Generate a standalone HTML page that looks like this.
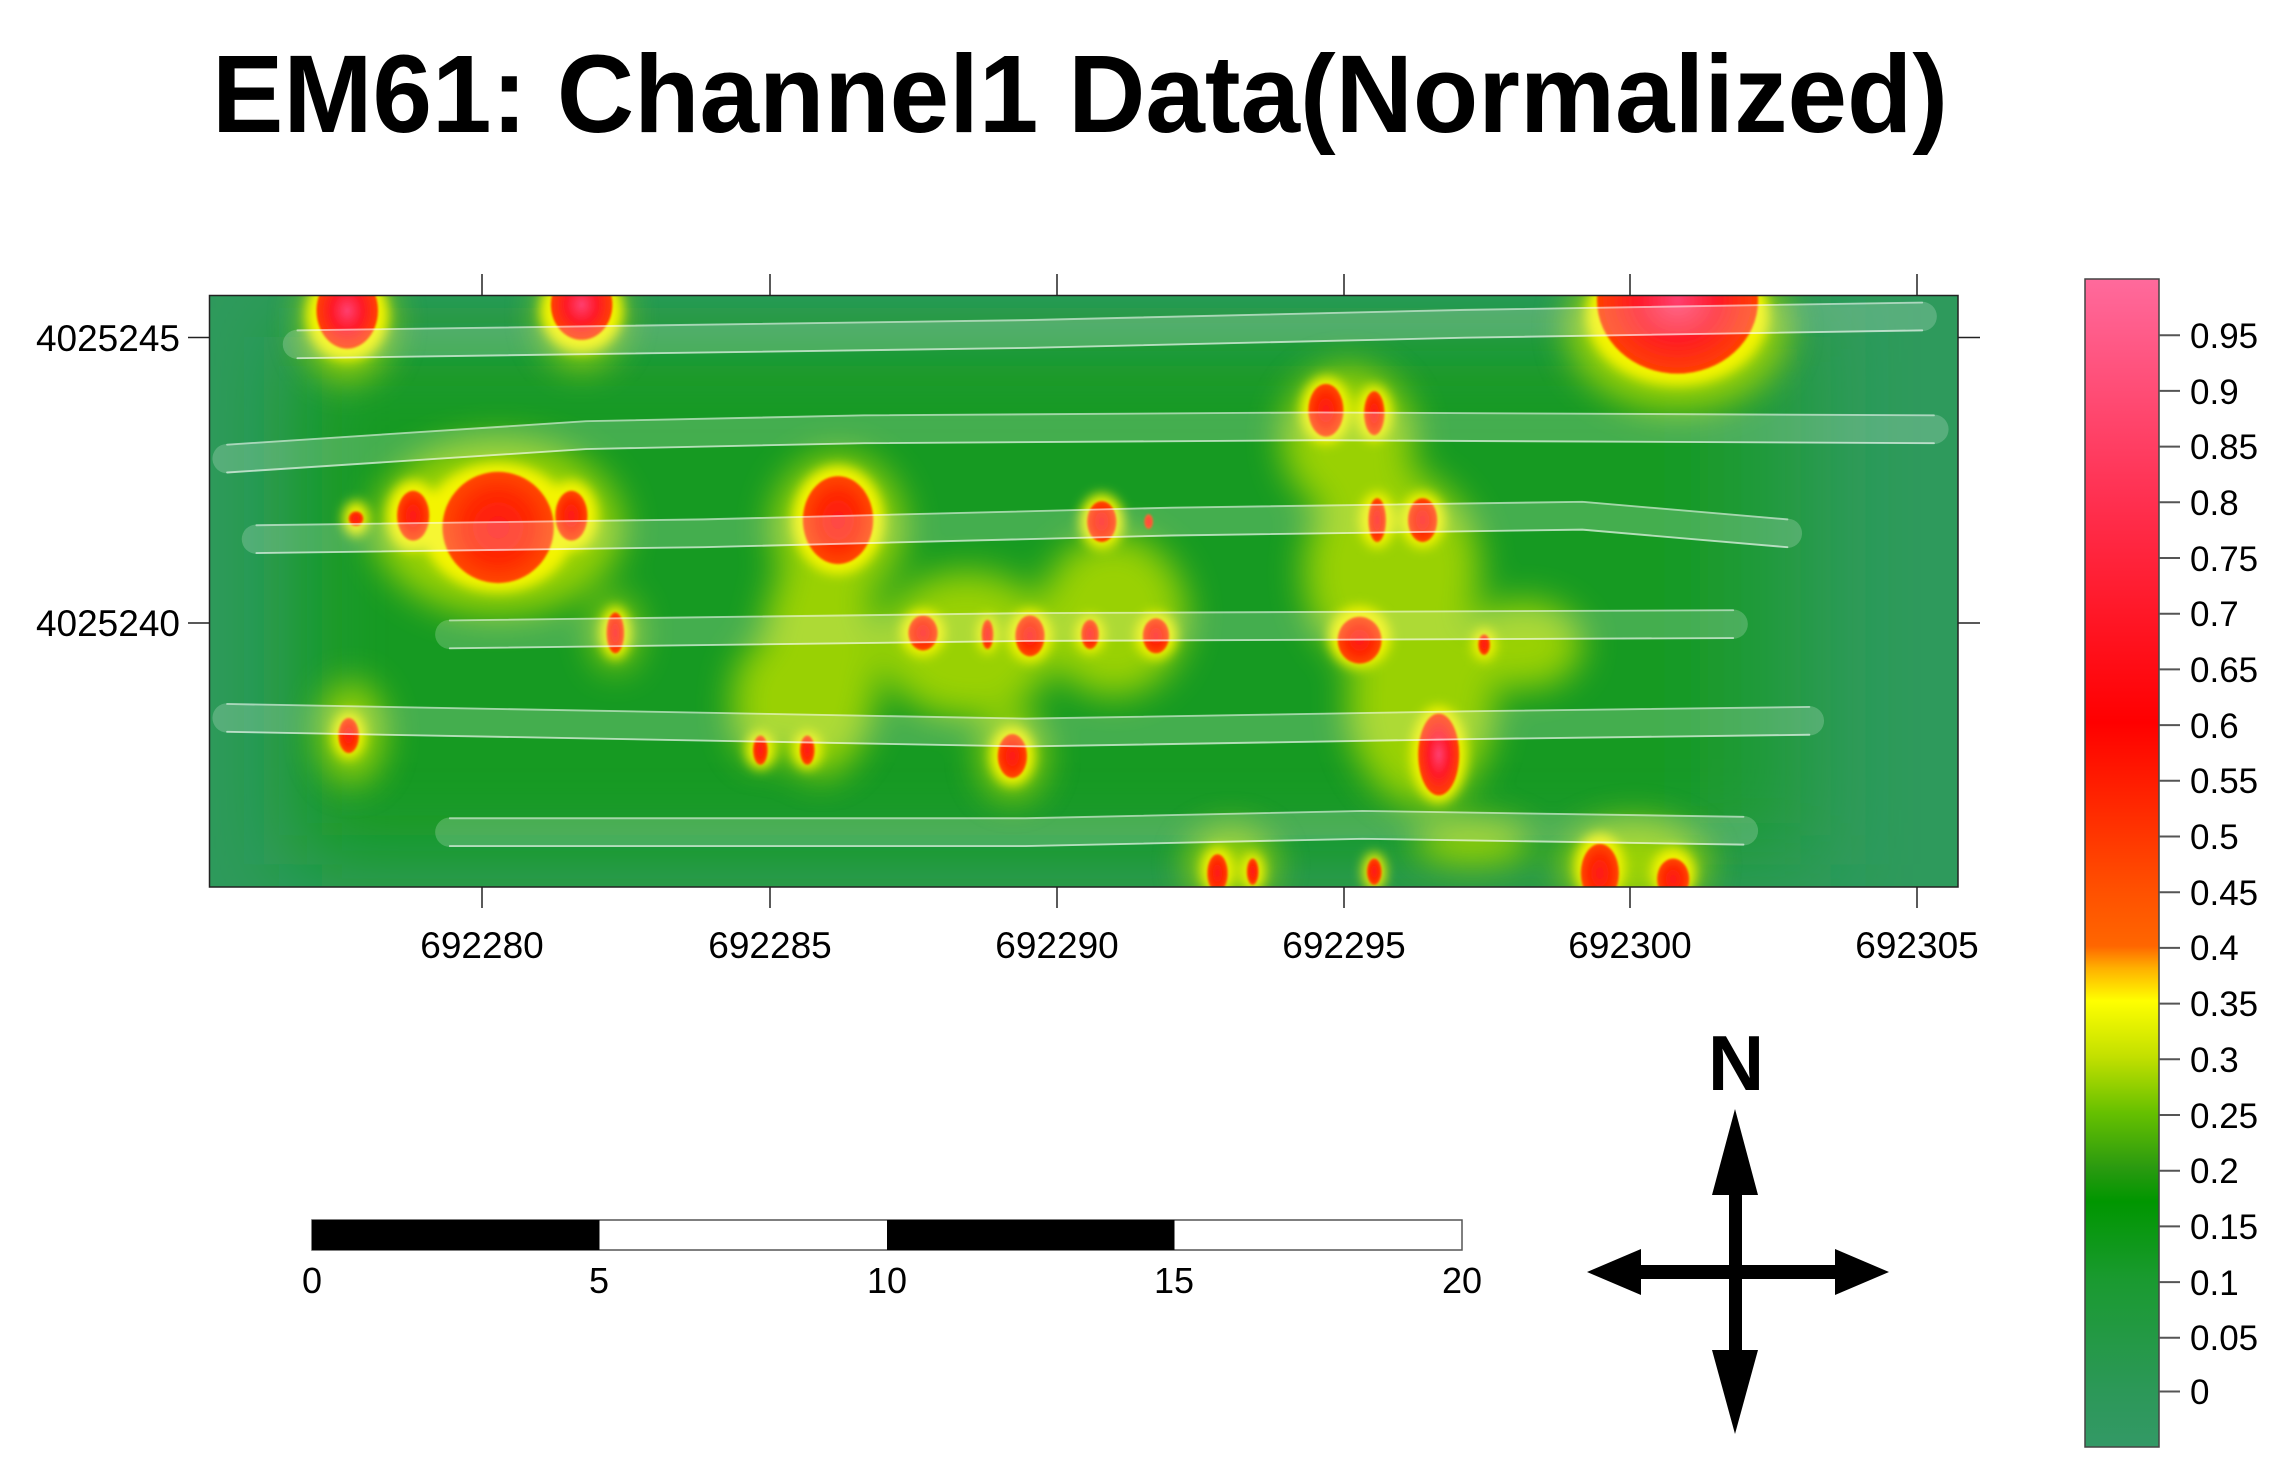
<!DOCTYPE html>
<html><head><meta charset="utf-8"><style>
html,body{margin:0;padding:0;background:#fff;}
svg{display:block;}
text{font-family:"Liberation Sans",sans-serif;}
</style></head><body>
<svg width="2290" height="1472" viewBox="0 0 2290 1472" xmlns="http://www.w3.org/2000/svg">
<defs>
<clipPath id="pc"><rect x="143" y="201.6" width="1193.5" height="403.6"/></clipPath>
<filter id="b12" x="-50%" y="-50%" width="200%" height="200%"><feGaussianBlur stdDeviation="12"/></filter>
<filter id="b6" x="-50%" y="-50%" width="200%" height="200%"><feGaussianBlur stdDeviation="4"/></filter>
<filter id="b1" x="-50%" y="-50%" width="200%" height="200%"><feGaussianBlur stdDeviation="0.7"/></filter>
<filter id="b30" x="-50%" y="-50%" width="200%" height="200%"><feGaussianBlur stdDeviation="30"/></filter>
<radialGradient id="rc"><stop offset="0" stop-color="#ff1a1a"/><stop offset="0.6" stop-color="#ff2a00"/><stop offset="1" stop-color="#ff4800"/></radialGradient>
<radialGradient id="rp"><stop offset="0" stop-color="#ff3f70"/><stop offset="0.5" stop-color="#ff1a28"/><stop offset="1" stop-color="#ff4000"/></radialGradient>
<linearGradient id="cb" x1="0" y1="0" x2="0" y2="1">
<stop offset="0" stop-color="#ff6a9c"/>
<stop offset="0.189" stop-color="#ff3050"/>
<stop offset="0.38" stop-color="#ff0000"/>
<stop offset="0.523" stop-color="#ff5000"/>
<stop offset="0.571" stop-color="#ff6600"/>
<stop offset="0.59" stop-color="#ffb000"/>
<stop offset="0.618" stop-color="#ffff00"/>
<stop offset="0.666" stop-color="#c2e000"/>
<stop offset="0.714" stop-color="#66c000"/>
<stop offset="0.761" stop-color="#2a9a10"/>
<stop offset="0.79" stop-color="#009600"/>
<stop offset="0.857" stop-color="#1a9a30"/>
<stop offset="0.952" stop-color="#2c9858"/>
<stop offset="1" stop-color="#339966"/>
</linearGradient>
<path id="t1" d="M203 235 L700 228 L1000 221 L1312 216"/>
<path id="t2" d="M155 313 L400 297 L590 293 L900 291 L1320 293"/>
<path id="t3" d="M175 368 L480 364 L800 356 L1080 352 L1220 364"/>
<path id="t4" d="M307 433 L700 428 L1183 426"/>
<path id="t5" d="M155 490 L700 500 L1000 495 L1235 492"/>
<path id="t6" d="M307 568 L700 568 L930 563 L1190 567"/>
</defs>

<text x="1080" y="132" font-size="110" font-weight="bold" text-anchor="middle" textLength="1736" lengthAdjust="spacingAndGlyphs">EM61: Channel1 Data(Normalized)</text>

<g transform="scale(1.4651)">
<g clip-path="url(#pc)">
<rect x="143" y="201.6" width="1193.5" height="403.6" fill="#2e9a5c"/>
<g filter="url(#b30)">
<rect x="200" y="230" width="1000" height="360" fill="#139a22"/>
<rect x="1180" y="210" width="60" height="380" fill="#229a3c"/>
</g>
<g filter="url(#b12)" fill="#a8d800" opacity="0.9">
<ellipse cx="340" cy="360" rx="85" ry="60"/>
<ellipse cx="237" cy="220" rx="30" ry="40"/>
<ellipse cx="397" cy="215" rx="28" ry="36"/>
<ellipse cx="1145" cy="225" rx="75" ry="55"/>
<ellipse cx="572" cy="360" rx="45" ry="50"/>
<ellipse cx="560" cy="450" rx="40" ry="80"/>
<ellipse cx="660" cy="440" rx="60" ry="50"/>
<ellipse cx="760" cy="420" rx="50" ry="55"/>
<ellipse cx="920" cy="300" rx="45" ry="50"/>
<ellipse cx="950" cy="390" rx="60" ry="70"/>
<ellipse cx="970" cy="480" rx="50" ry="70"/>
<ellipse cx="1040" cy="440" rx="40" ry="30"/>
<ellipse cx="240" cy="500" rx="22" ry="35"/>
<ellipse cx="520" cy="480" rx="20" ry="40"/>
<ellipse cx="691" cy="515" rx="22" ry="30"/>
<ellipse cx="420" cy="432" rx="15" ry="25"/>
<ellipse cx="840" cy="590" rx="30" ry="25"/>
<ellipse cx="1115" cy="590" rx="50" ry="30"/>
<ellipse cx="1005" cy="575" rx="40" ry="15"/>
</g>
<g filter="url(#b6)" fill="#f4f400">
<ellipse cx="340" cy="360" rx="52" ry="44"/>
<ellipse cx="282" cy="352" rx="18" ry="24"/>
<ellipse cx="390" cy="352" rx="18" ry="24"/>
<ellipse cx="243" cy="354" rx="9" ry="12"/>
<ellipse cx="237" cy="215" rx="28" ry="31"/>
<ellipse cx="397" cy="212" rx="28" ry="28"/>
<ellipse cx="1145" cy="215" rx="62" ry="48"/>
<ellipse cx="572" cy="355" rx="31" ry="37"/>
<ellipse cx="752" cy="356" rx="15" ry="19"/>
<ellipse cx="905" cy="280" rx="17" ry="23"/>
<ellipse cx="938" cy="282" rx="12" ry="19"/>
<ellipse cx="940" cy="355" rx="12" ry="19"/>
<ellipse cx="971" cy="355" rx="15" ry="19"/>
<ellipse cx="420" cy="432" rx="10" ry="18"/>
<ellipse cx="630" cy="432" rx="15" ry="16"/>
<ellipse cx="703" cy="434" rx="15" ry="18"/>
<ellipse cx="744" cy="433" rx="10" ry="13"/>
<ellipse cx="789" cy="434" rx="14" ry="16"/>
<ellipse cx="674" cy="433" rx="7" ry="13"/>
<ellipse cx="928" cy="435" rx="21" ry="21"/>
<ellipse cx="1013" cy="440" rx="8" ry="11"/>
<ellipse cx="238" cy="502" rx="11" ry="16"/>
<ellipse cx="519" cy="512" rx="10" ry="13"/>
<ellipse cx="551" cy="512" rx="10" ry="13"/>
<ellipse cx="691" cy="516" rx="15" ry="20"/>
<ellipse cx="982" cy="515" rx="19" ry="33"/>
<ellipse cx="831" cy="594" rx="11" ry="16"/>
<ellipse cx="855" cy="595" rx="8" ry="13"/>
<ellipse cx="938" cy="595" rx="8" ry="13"/>
<ellipse cx="1092" cy="592" rx="17" ry="23"/>
<ellipse cx="1142" cy="596" rx="15" ry="17"/>
</g>
<g filter="url(#b1)">
<ellipse cx="237" cy="212" rx="21" ry="26" fill="url(#rp)"/>
<ellipse cx="397" cy="208" rx="21" ry="24" fill="url(#rp)"/>
<ellipse cx="1145" cy="205" rx="55" ry="50" fill="url(#rp)"/>
<ellipse cx="340" cy="360" rx="38" ry="38" fill="url(#rc)"/>
<ellipse cx="282" cy="352" rx="11" ry="17" fill="url(#rc)"/>
<ellipse cx="390" cy="352" rx="11" ry="17" fill="url(#rc)"/>
<ellipse cx="243" cy="354" rx="5" ry="5" fill="url(#rc)"/>
<ellipse cx="572" cy="355" rx="24" ry="30" fill="url(#rc)"/>
<ellipse cx="752" cy="356" rx="10" ry="14" fill="url(#rc)"/>
<ellipse cx="784" cy="356" rx="3" ry="5" fill="url(#rc)"/>
<ellipse cx="905" cy="280" rx="12" ry="18" fill="url(#rc)"/>
<ellipse cx="938" cy="282" rx="7" ry="15" fill="url(#rc)"/>
<ellipse cx="940" cy="355" rx="6" ry="15" fill="url(#rc)"/>
<ellipse cx="971" cy="355" rx="10" ry="15" fill="url(#rc)"/>
<ellipse cx="420" cy="432" rx="6" ry="14" fill="url(#rc)"/>
<ellipse cx="630" cy="432" rx="10" ry="12" fill="url(#rc)"/>
<ellipse cx="674" cy="433" rx="4" ry="10" fill="url(#rc)"/>
<ellipse cx="703" cy="434" rx="10" ry="14" fill="url(#rc)"/>
<ellipse cx="744" cy="433" rx="6" ry="10" fill="url(#rc)"/>
<ellipse cx="789" cy="434" rx="9" ry="12" fill="url(#rc)"/>
<ellipse cx="928" cy="437" rx="15" ry="16" fill="url(#rc)"/>
<ellipse cx="1013" cy="440" rx="4" ry="7" fill="url(#rc)"/>
<ellipse cx="238" cy="502" rx="7" ry="12" fill="url(#rc)"/>
<ellipse cx="519" cy="512" rx="5" ry="10" fill="url(#rc)"/>
<ellipse cx="551" cy="512" rx="5" ry="10" fill="url(#rc)"/>
<ellipse cx="691" cy="516" rx="10" ry="15" fill="url(#rc)"/>
<ellipse cx="982" cy="515" rx="14" ry="28" fill="url(#rp)"/>
<ellipse cx="831" cy="596" rx="7" ry="13" fill="url(#rc)"/>
<ellipse cx="855" cy="595" rx="4" ry="9" fill="url(#rc)"/>
<ellipse cx="938" cy="595" rx="5" ry="9" fill="url(#rc)"/>
<ellipse cx="1092" cy="596" rx="13" ry="20" fill="url(#rc)"/>
<ellipse cx="1142" cy="600" rx="11" ry="14" fill="url(#rc)"/>
</g>
<g fill="none" stroke-linecap="round" stroke-linejoin="round">
<g stroke="#ffffff" stroke-opacity="0.2" stroke-width="20">
<use href="#t1"/><use href="#t2"/><use href="#t3"/><use href="#t4"/><use href="#t5"/><use href="#t6"/>
</g>
<g stroke="#ffffff" stroke-opacity="0.5" stroke-width="1.3" transform="translate(0,-9.5)">
<use href="#t1"/><use href="#t2"/><use href="#t3"/><use href="#t4"/><use href="#t5"/><use href="#t6"/>
</g>
<g stroke="#ffffff" stroke-opacity="0.6" stroke-width="1.3" transform="translate(0,9.5)">
<use href="#t1"/><use href="#t2"/><use href="#t3"/><use href="#t4"/><use href="#t5"/><use href="#t6"/>
</g>
</g>
</g>
</g>

<rect x="209.5" y="295.5" width="1748.5" height="591.5" fill="none" stroke="#222" stroke-width="1.5"/>
<g stroke="#222" stroke-width="1.5">
<line x1="482" y1="274" x2="482" y2="295"/><line x1="482" y1="887" x2="482" y2="908"/>
<line x1="770" y1="274" x2="770" y2="295"/><line x1="770" y1="887" x2="770" y2="908"/>
<line x1="1057" y1="274" x2="1057" y2="295"/><line x1="1057" y1="887" x2="1057" y2="908"/>
<line x1="1344" y1="274" x2="1344" y2="295"/><line x1="1344" y1="887" x2="1344" y2="908"/>
<line x1="1630" y1="274" x2="1630" y2="295"/><line x1="1630" y1="887" x2="1630" y2="908"/>
<line x1="1917" y1="274" x2="1917" y2="295"/><line x1="1917" y1="887" x2="1917" y2="908"/>
<line x1="188" y1="337.5" x2="209.5" y2="337.5"/><line x1="1958" y1="337.5" x2="1980" y2="337.5"/>
<line x1="188" y1="623" x2="209.5" y2="623"/><line x1="1958" y1="623" x2="1980" y2="623"/>
</g>
<g font-size="37" text-anchor="middle">
<text x="482" y="958">692280</text>
<text x="770" y="958">692285</text>
<text x="1057" y="958">692290</text>
<text x="1344" y="958">692295</text>
<text x="1630" y="958">692300</text>
<text x="1917" y="958">692305</text>
</g>
<g font-size="37" text-anchor="end">
<text x="180" y="351">4025245</text>
<text x="180" y="636">4025240</text>
</g>

<rect x="2085" y="279" width="74" height="1168" fill="url(#cb)" stroke="#444" stroke-width="1.5"/>
<g stroke="#555" stroke-width="2">
<line x1="2159" y1="335.2" x2="2180" y2="335.2"/><line x1="2159" y1="390.9" x2="2180" y2="390.9"/>
<line x1="2159" y1="446.6" x2="2180" y2="446.6"/><line x1="2159" y1="502.3" x2="2180" y2="502.3"/>
<line x1="2159" y1="558" x2="2180" y2="558"/><line x1="2159" y1="613.7" x2="2180" y2="613.7"/>
<line x1="2159" y1="669.4" x2="2180" y2="669.4"/><line x1="2159" y1="725.1" x2="2180" y2="725.1"/>
<line x1="2159" y1="780.8" x2="2180" y2="780.8"/><line x1="2159" y1="836.5" x2="2180" y2="836.5"/>
<line x1="2159" y1="892.2" x2="2180" y2="892.2"/><line x1="2159" y1="947.9" x2="2180" y2="947.9"/>
<line x1="2159" y1="1003.6" x2="2180" y2="1003.6"/><line x1="2159" y1="1059.3" x2="2180" y2="1059.3"/>
<line x1="2159" y1="1115" x2="2180" y2="1115"/><line x1="2159" y1="1170.7" x2="2180" y2="1170.7"/>
<line x1="2159" y1="1226.4" x2="2180" y2="1226.4"/><line x1="2159" y1="1282.1" x2="2180" y2="1282.1"/>
<line x1="2159" y1="1337.8" x2="2180" y2="1337.8"/><line x1="2159" y1="1391.5" x2="2180" y2="1391.5"/>
</g>
<g font-size="35">
<text x="2190" y="348">0.95</text><text x="2190" y="404">0.9</text>
<text x="2190" y="459">0.85</text><text x="2190" y="515">0.8</text>
<text x="2190" y="571">0.75</text><text x="2190" y="626">0.7</text>
<text x="2190" y="682">0.65</text><text x="2190" y="738">0.6</text>
<text x="2190" y="793">0.55</text><text x="2190" y="849">0.5</text>
<text x="2190" y="905">0.45</text><text x="2190" y="960">0.4</text>
<text x="2190" y="1016">0.35</text><text x="2190" y="1072">0.3</text>
<text x="2190" y="1128">0.25</text><text x="2190" y="1183">0.2</text>
<text x="2190" y="1239">0.15</text><text x="2190" y="1295">0.1</text>
<text x="2190" y="1350">0.05</text><text x="2190" y="1404">0</text>
</g>

<rect x="312" y="1220" width="1150" height="30" fill="#fff" stroke="#555" stroke-width="1.5"/>
<rect x="312" y="1220" width="287.5" height="30" fill="#000"/>
<rect x="887" y="1220" width="287.5" height="30" fill="#000"/>
<g font-size="36" text-anchor="middle">
<text x="312" y="1293">0</text><text x="599" y="1293">5</text>
<text x="887" y="1293">10</text><text x="1174" y="1293">15</text>
<text x="1462" y="1293">20</text>
</g>

<text x="1736" y="1090" font-size="78" font-weight="bold" text-anchor="middle">N</text>
<rect x="1729" y="1190" width="13" height="200" fill="#000"/>
<polygon points="1735,1109 1758,1195 1712,1195" fill="#000"/>
<polygon points="1735,1434 1758,1350 1712,1350" fill="#000"/>
<rect x="1620" y="1265" width="220" height="14" fill="#000"/>
<polygon points="1889,1272 1835,1249 1835,1295" fill="#000"/>
<polygon points="1587,1272 1641,1249 1641,1295" fill="#000"/>
</svg>
</body></html>
